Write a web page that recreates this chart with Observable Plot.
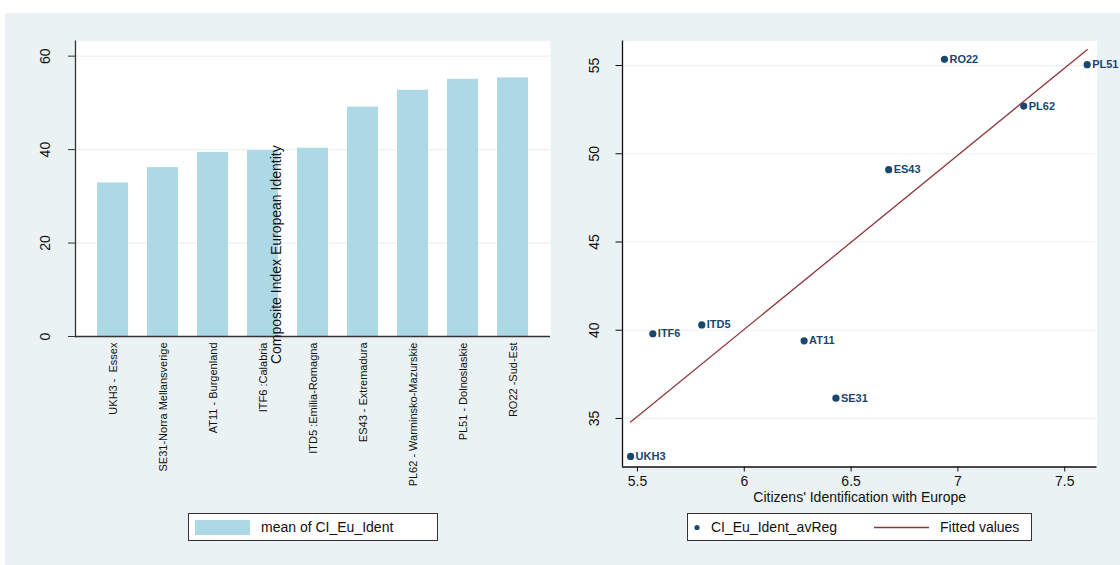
<!DOCTYPE html>
<html>
<head>
<meta charset="utf-8">
<script src="https://cdn.jsdelivr.net/npm/d3@7"></script>
<script src="https://cdn.jsdelivr.net/npm/@observablehq/plot@0.6"></script>
<style>
  html, body { margin: 0; padding: 0; background: #fff; }
  #page { position: relative; width: 1120px; height: 565px; overflow: hidden;
          font-family: "Liberation Sans", Arial, sans-serif; color: #111; }
  #panel { position: absolute; left: 5px; top: 13px; width: 1115px; height: 552px; background: #eaf2f3; }
  .chart { position: absolute; top: 0; }
  .legend { position: absolute; top: 513px; height: 26px; border: 1px solid #333; background: #fff; box-sizing: content-box; }
  .legend span { position: absolute; top: 4px; font-size: 14px; line-height: 18px; white-space: nowrap; }
</style>
</head>
<body>
<div id="page">
  <div id="panel"></div>
  <div id="left" class="chart" style="left:0px"></div>
  <div id="right" class="chart" style="left:560px"></div>

  <div class="legend" style="left:188px; width:248px;">
    <div style="position:absolute; left:6px; top:6px; width:55px; height:15px; background:#add8e6;"></div>
    <span style="left:72px;">mean of CI_Eu_Ident</span>
  </div>

  <div class="legend" style="left:687px; width:343px;">
    <svg width="343" height="26" style="position:absolute;left:0;top:0">
      <circle cx="9" cy="13.5" r="2.6" fill="#1a476f"></circle>
      <line x1="186" x2="241" y1="13.5" y2="13.5" stroke="#90353b" stroke-width="1.3"></line>
    </svg>
    <span style="left:23px;">CI_Eu_Ident_avReg</span>
    <span style="left:252px;">Fitted values</span>
  </div>
</div>

<script>
// NUTS-2 regions, their composite European identity index and citizens' identification score
const regions = [
  "UKH3 -  Essex",
  "SE31-Norra Mellansverige",
  "AT11 - Burgenland",
  "ITF6 :Calabria",
  "ITD5 :Emilia-Romagna",
  "ES43 - Extremadura",
  "PL62 - Warminsko-Mazurskie",
  "PL51 - Dolnoslaskie",
  "RO22 -Sud-Est"
];
const codes = ["UKH3", "SE31", "AT11", "ITF6", "ITD5", "ES43", "PL62", "PL51", "RO22"];
const identIndex = [32.85, 36.15, 39.4, 39.8, 40.3, 49.1, 52.7, 55.05, 55.35];
const citizensIdent = [5.468, 6.429, 6.280, 5.572, 5.801, 6.676, 7.308, 7.605, 6.937];

const barTicks = [0, 20, 40, 60];
const scatterYTicks = [35, 40, 45, 50, 55];
const scatterXTicks = [5.5, 6, 6.5, 7, 7.5];

const rows = regions.map((r, i) => ({
  region: r, code: codes[i], index: identIndex[i], ident: citizensIdent[i]
}));

const FONT = "'Liberation Sans', Arial, sans-serif";
const BG = "#eaf2f3";
const NAVY = "#1a476f";
const FIT = "#90353b";

// Left: bar chart of the index by region
const bars = Plot.plot({
  width: 560, height: 500,
  marginLeft: 75, marginRight: 10, marginTop: 40.7, marginBottom: 164,
  style: {fontFamily: FONT, background: "transparent", overflow: "visible", color: "#111"},
  x: {domain: regions, paddingInner: 0.385, paddingOuter: 0.405, label: null},
  y: {domain: [0, 63.2], label: null},
  marks: [
    Plot.frame({fill: "white", stroke: "none"}),
    Plot.ruleY(barTicks.filter(d => d > 0), {stroke: BG, strokeWidth: 1.2}),
    Plot.barY(rows, {x: "region", y: "index", fill: "#add8e6"}),
    Plot.ruleY([0], {stroke: "#333", strokeWidth: 1.3}),
    Plot.frame({anchor: "left", stroke: "#333", strokeWidth: 1.3}),
    Plot.axisY({ticks: barTicks, tickSize: 7, tickFormat: () => "", stroke: "#333"}),
    Plot.text(barTicks, {y: d => d, text: d => String(d), frameAnchor: "left", dx: -30,
      rotate: -90, textAnchor: "middle", lineAnchor: "middle", fontSize: 14, fill: "#111"}),
    Plot.axisX({tickSize: 0, tickPadding: 6, tickRotate: -90, fontSize: 11, label: null}),
    Plot.text(["Composite Index European Identity"], {frameAnchor: "top-left", dx: 201, dy: 213.5,
      rotate: -90, textAnchor: "middle", lineAnchor: "middle", fontSize: 14, fill: "#111"})
  ]
});
document.getElementById("left").appendChild(bars);

// Right: scatter of the index against citizens' identification, with OLS fit
const xDom = [5.43, 7.651];
const yDom = [32.25, 56.39];
const scatter = Plot.plot({
  width: 560, height: 510,
  marginLeft: 62, marginRight: 23.5, marginTop: 40.5, marginBottom: 43.5,
  style: {fontFamily: FONT, background: "transparent", overflow: "visible", color: "#111"},
  x: {domain: xDom, label: null},
  y: {domain: yDom, label: null},
  marks: [
    Plot.frame({fill: "white", stroke: "none"}),
    Plot.ruleY(scatterYTicks, {stroke: BG, strokeWidth: 1.2}),
    Plot.linearRegressionY(rows, {x: "ident", y: "index", stroke: FIT, strokeWidth: 1.3, ci: 0}),
    Plot.dot(rows, {x: "ident", y: "index", r: 3.6, fill: NAVY, stroke: "none"}),
    Plot.text(rows, {x: "ident", y: "index", text: "code", dx: 5, textAnchor: "start",
      lineAnchor: "middle", fontSize: 11, fontWeight: "bold", fill: NAVY}),
    Plot.ruleX([xDom[0]], {stroke: "#111", strokeWidth: 1.3}),
    Plot.ruleY([yDom[0]], {stroke: "#111", strokeWidth: 1.3}),
    Plot.axisY({ticks: scatterYTicks, tickSize: 6.5, tickFormat: () => "", stroke: "#111"}),
    Plot.text(scatterYTicks, {y: d => d, text: d => String(d), frameAnchor: "left", dx: -28,
      rotate: -90, textAnchor: "middle", lineAnchor: "middle", fontSize: 14, fill: "#111"}),
    Plot.axisX({ticks: scatterXTicks, tickSize: 5, tickPadding: 4, fontSize: 14,
      tickFormat: d => String(d), stroke: "#111", label: null}),
    Plot.text(["Citizens' Identification with Europe"], {frameAnchor: "bottom", dy: 31,
      textAnchor: "middle", lineAnchor: "middle", fontSize: 14, fill: "#111"})
  ]
});
document.getElementById("right").appendChild(scatter);
</script>
</body>
</html>
